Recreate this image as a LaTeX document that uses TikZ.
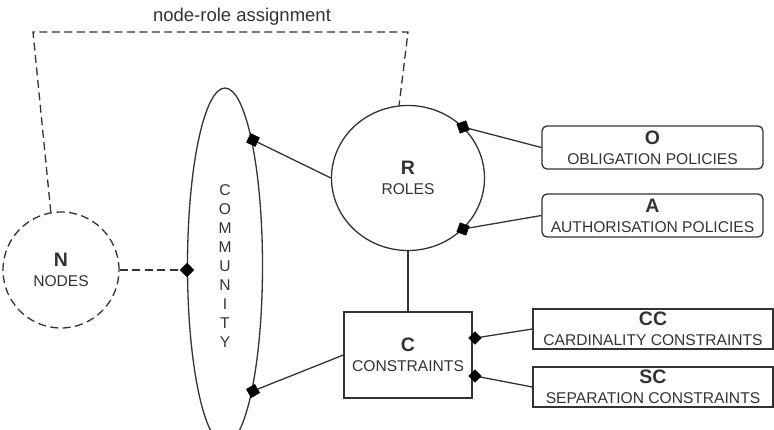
\documentclass[tikz,border=0pt]{standalone}
\usepackage{fontspec}
\setmainfont{Liberation Sans}
\usetikzlibrary{shapes.geometric}
\definecolor{ink}{HTML}{333333}
\tikzset{
  lbl/.style={text=ink, font=\fontsize{15.6}{20}\selectfont, align=center, inner sep=0pt},
  edge/.style={draw=ink, line width=1.3pt},
  dashedge/.style={draw=ink, line width=1.3pt, dash pattern=on 8pt off 4.5pt},
  knob/.style={diamond, fill=black, draw=black, inner sep=0pt, minimum width=14pt, minimum height=14pt},
  pbox/.style={lbl, draw=ink, line width=1.3pt, rounded corners=5pt, minimum width=221pt, minimum height=43pt},
  cbox/.style={lbl, draw=ink, line width=1.3pt, minimum width=240pt, minimum height=40pt},
}
\newcommand{\hd}[1]{{\fontsize{19.5}{20}\selectfont\bfseries #1}}
\begin{document}
\begin{tikzpicture}[x=1pt,y=-1pt]
\useasboundingbox (0,0) rectangle (774,429);
\clip (0,0) rectangle (774,429);

% nodes
\node[lbl, ellipse, draw=ink, line width=1.3pt, minimum width=75pt, minimum height=356pt,
      font=\fontsize{15.6}{19}\selectfont] (comm) at (225,266)
  {C\\O\\M\\M\\U\\N\\I\\T\\Y};
\node[lbl, circle, dashedge, minimum size=116pt] (N) at (61,270) {\hd{N}\\NODES};
\node[lbl, ellipse, draw=ink, line width=1.3pt, minimum width=153pt, minimum height=145pt] (R) at (408,178) {\hd{R}\\ROLES};
\node[lbl, rectangle, draw=ink, line width=1.3pt, minimum width=128pt, minimum height=86pt] (C) at (408,355) {\hd{C}\\CONSTRAINTS};
\node[pbox] (O) at (652.5,147.5) {\hd{O}\\OBLIGATION POLICIES};
\node[pbox] (A) at (652.5,215.5) {\hd{A}\\AUTHORISATION POLICIES};
\node[cbox] (CC) at (653,329) {\hd{CC}\\CARDINALITY CONSTRAINTS};
\node[cbox] (SC) at (653,387) {\hd{SC}\\SEPARATION CONSTRAINTS};
\node[text=ink, font=\fontsize{18.5}{20}\selectfont, inner sep=0pt] (title) at (242,17) {node-role assignment};

% corner points of the assignment line
\coordinate (k1) at (33,32);
\coordinate (k2) at (408,32);
\coordinate (m2) at (187,270);

% connectors
\draw[dashedge] (N.100) -- (k1) -- (k2) -- (R.97);
\draw[dashedge] (N.east) -- (m2);

\coordinate (d1) at (253,140);
\coordinate (d3) at (253,391);
\coordinate (r1) at (463,127);
\coordinate (r2) at (463,229);
\coordinate (c1) at (475,338);
\coordinate (c2) at (475,376);

\draw[edge] (d1) -- (R.west);
\draw[edge] (d3) -- (C.west);
\draw[edge] (r1) -- (O.west);
\draw[edge] (r2) -- (A.west);
\draw[edge] (R.south) -- (C.north);
\draw[edge] (c1) -- (CC.west);
\draw[edge] (c2) -- (SC.west);

\node[knob] (kn2) at (m2) {};
\node[knob, rotate=20] (kn1) at (d1) {};
\node[knob, rotate=-15] (kn3) at (d3) {};
\node[knob, rotate=-25] (kr1) at (r1) {};
\node[knob, rotate=25] (kr2) at (r2) {};
\node[knob, minimum width=13pt, minimum height=13pt] (kc1) at (c1) {};
\node[knob, minimum width=13pt, minimum height=13pt] (kc2) at (c2) {};
\end{tikzpicture}
\end{document}
